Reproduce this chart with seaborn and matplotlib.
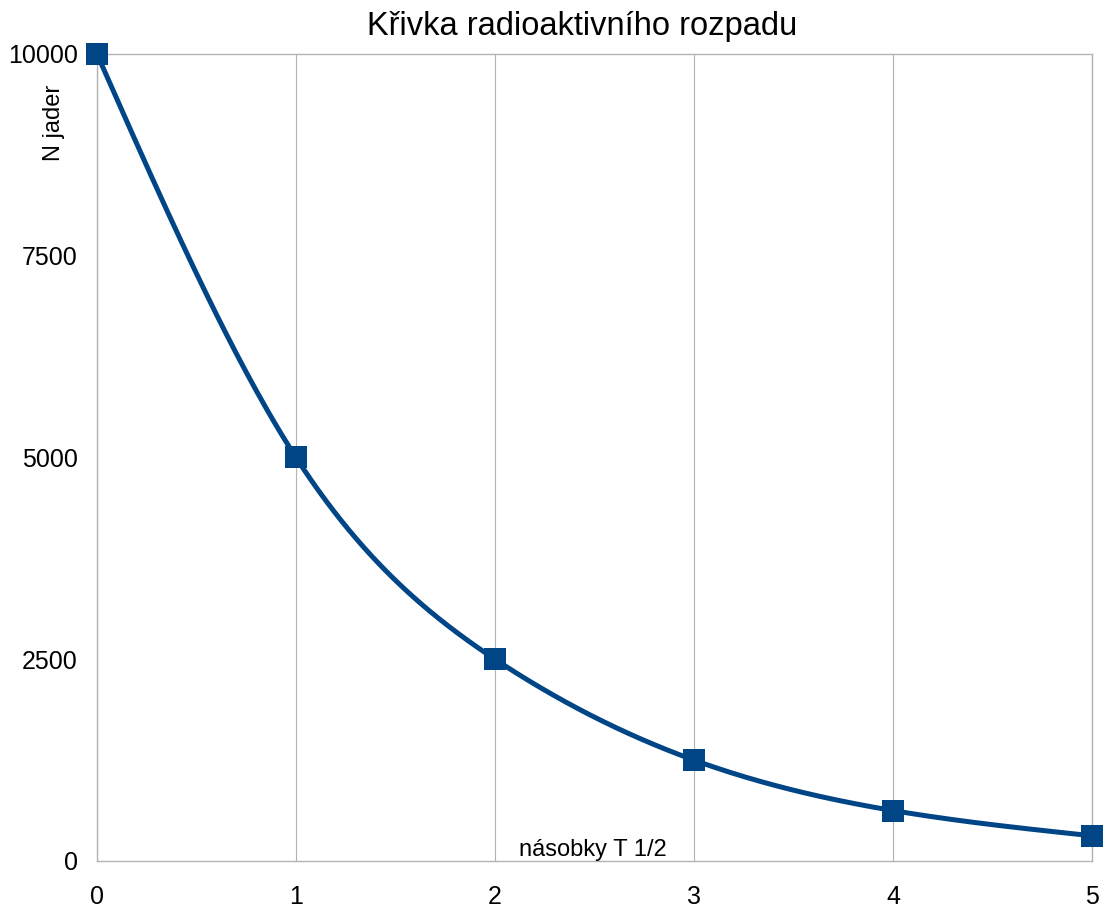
import numpy as np
import pandas as pd
import matplotlib
matplotlib.use("Agg")
import matplotlib.pyplot as plt
import seaborn as sns

# Data
half_lives = [0, 1, 2, 3, 4, 5]
nuclei = [10000, 5000, 2500, 1250, 625, 312.5]
y_ticks = [0, 2500, 5000, 7500, 10000]
title = "Křivka radioaktivního rozpadu"
x_label = "násobky T 1/2"
y_label = "N jader"

sns.set_theme(style="white")
plt.rcParams['font.family'] = ['Liberation Sans', 'DejaVu Sans']

LINE = "#004586"
GRID = "#b3b3b3"


def natural_spline(x, y, n=400):
    x = np.asarray(x, float)
    y = np.asarray(y, float)
    k = len(x)
    h = np.diff(x)
    A = np.zeros((k, k))
    b = np.zeros(k)
    A[0, 0] = 1
    A[-1, -1] = 1
    for i in range(1, k - 1):
        A[i, i - 1] = h[i - 1]
        A[i, i] = 2 * (h[i - 1] + h[i])
        A[i, i + 1] = h[i]
        b[i] = 6 * ((y[i + 1] - y[i]) / h[i] - (y[i] - y[i - 1]) / h[i - 1])
    M = np.linalg.solve(A, b)
    xs = np.linspace(x[0], x[-1], n)
    idx = np.clip(np.searchsorted(x, xs) - 1, 0, k - 2)
    x0, x1 = x[idx], x[idx + 1]
    hh = x1 - x0
    t0 = x1 - xs
    t1 = xs - x0
    ys = (M[idx] * t0 ** 3 / (6 * hh) + M[idx + 1] * t1 ** 3 / (6 * hh)
          + (y[idx] / hh - M[idx] * hh / 6) * t0
          + (y[idx + 1] / hh - M[idx + 1] * hh / 6) * t1)
    return xs, ys


df = pd.DataFrame({"t": half_lives, "N": nuclei})
sx, sy = natural_spline(half_lives, nuclei)
smooth = pd.DataFrame({"t": sx, "N": sy})

fig = plt.figure(figsize=(11.05, 9.10), dpi=100)
ax = fig.add_axes([97 / 1105, 1 - 861 / 910, (1092 - 97) / 1105, (861 - 54) / 910])

sns.lineplot(data=smooth, x="t", y="N", ax=ax, color=LINE, linewidth=3.6,
             solid_capstyle="butt", clip_on=False, zorder=3)
ax.plot(df["t"], df["N"], linestyle="none", marker="s", markersize=16,
        color=LINE, markeredgewidth=0, clip_on=False, zorder=4)

ax.set_xlim(0, 5)
ax.set_ylim(0, 10000)
ax.set_xticks(half_lives)
ax.set_xticklabels([str(v) for v in half_lives])
ax.set_yticks(y_ticks)
ax.set_yticklabels([str(v) for v in y_ticks])

ax.xaxis.grid(True, color=GRID, linewidth=0.8)
ax.yaxis.grid(False)
ax.set_axisbelow(True)
for s in ax.spines.values():
    s.set_color(GRID)
    s.set_linewidth(1.0)

ax.tick_params(axis="both", which="major", direction="out", length=8,
               width=0.8, color=GRID, labelsize=18, labelcolor="black")
ax.tick_params(axis="x", pad=9)
ax.tick_params(axis="y", pad=6)
ax.set_xlabel("")
ax.set_ylabel("")

fig.text(593 / 1105, 1 - 850 / 910, x_label, ha="center", va="center",
         fontsize=17, color="black")
fig.text(54 / 1105, 1 - 123 / 910, y_label, ha="center", va="center",
         rotation=90, fontsize=17, color="black")
fig.text(582 / 1105, 1 - 27 / 910, title, ha="center", va="center",
         fontsize=23.5, color="black")

fig.savefig("out.png", dpi=100, facecolor="white")
